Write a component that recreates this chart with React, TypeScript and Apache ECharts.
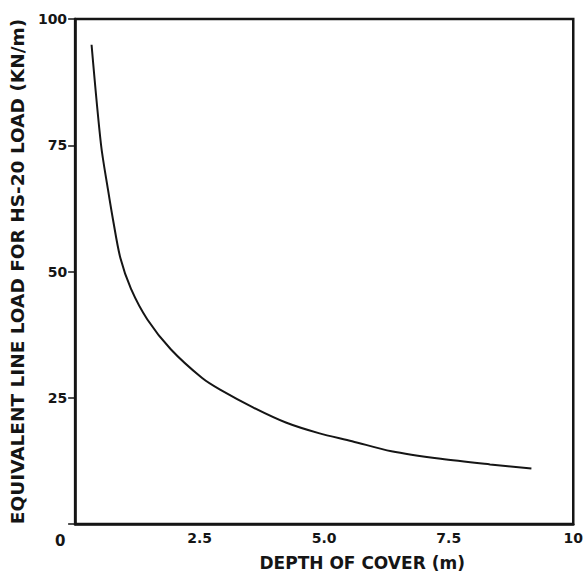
import React, { useEffect, useRef } from "react";
import * as echarts from "echarts";

const depth = [0.33, 0.52, 0.66, 0.76, 0.91, 1.12, 1.45, 1.92, 2.55, 2.91, 3.57, 4.23, 4.89, 5.56, 6.35, 7.34, 8.33, 9.16];
const load = [94.9, 75.1, 66.2, 60.3, 52.6, 46.6, 40.5, 34.6, 28.9, 26.6, 23.1, 20.1, 18.0, 16.4, 14.4, 12.9, 11.8, 11.0];
const xTickLabels = ["0", "2.5", "5.0", "7.5", "10"];
const yTickLabels = ["", "25", "50", "75", "100"];
const xTitle = "DEPTH OF COVER (m)";
const yTitle = "EQUIVALENT LINE LOAD FOR HS-20 LOAD (KN/m)";

const FONT = "DejaVu Sans";
const INK = "#151515";

export default function App() {
  const ref = useRef<HTMLDivElement>(null);
  useEffect(() => {
    if (!ref.current) return;
    const chart = echarts.init(ref.current, undefined, { renderer: "svg" });
    chart.setOption({
      animation: false,
      backgroundColor: "#ffffff",
      grid: {
        left: 70,
        right: 12,
        top: 19,
        bottom: 51,
        show: true,
        borderColor: INK,
        borderWidth: 2.5,
        backgroundColor: "transparent",
      },
      xAxis: {
        type: "value",
        min: 0,
        max: 10,
        interval: 2.5,
        name: xTitle,
        nameLocation: "middle",
        nameGap: 30,
        nameTextStyle: {
          fontFamily: FONT,
          fontWeight: "bold",
          fontSize: 17,
          color: INK,
          padding: [0, 0, 0, 76],
          verticalAlign: "top",
        },
        axisLine: { show: true, lineStyle: { color: INK, width: 2.5 } },
        axisTick: { show: false },
        splitLine: { show: false },
        axisLabel: {
          margin: 7,
          fontFamily: FONT,
          fontWeight: "bold",
          fontSize: 14,
          color: INK,
          formatter: (v: number, i: number) =>
            i === 0 ? "{o|" + xTickLabels[0] + "}" : xTickLabels[i] ?? String(v),
          rich: {
            o: {
              fontFamily: FONT,
              fontWeight: "bold",
              fontSize: 15,
              color: INK,
              padding: [2, 30, 0, 0],
            },
          },
        },
      },
      yAxis: {
        type: "value",
        min: 0,
        max: 100,
        interval: 25,
        name: yTitle,
        nameLocation: "middle",
        nameGap: 48,
        nameRotate: 90,
        nameTextStyle: {
          fontFamily: FONT,
          fontWeight: "bold",
          fontSize: 18.5,
          color: INK,
        },
        axisLine: { show: true, lineStyle: { color: INK, width: 2.5 } },
        axisTick: { show: true, inside: false, length: 7, lineStyle: { color: INK, width: 1.5 } },
        splitLine: { show: false },
        axisLabel: {
          margin: 8,
          fontFamily: FONT,
          fontWeight: "bold",
          fontSize: 14,
          color: INK,
          padding: [0, 0, 6, 0],
          formatter: (v: number, i: number) => yTickLabels[i] ?? String(v),
        },
      },
      series: [
        {
          type: "line",
          data: depth.map((d, i) => [d, load[i]]),
          smooth: 0.3,
          showSymbol: false,
          lineStyle: { color: INK, width: 2 },
        },
      ],
    });
    return () => chart.dispose();
  }, []);
  return (
    <div
      ref={ref}
      style={{ position: "fixed", left: 0, top: 0, width: 586, height: 576, background: "#fff" }}
    />
  );
}
